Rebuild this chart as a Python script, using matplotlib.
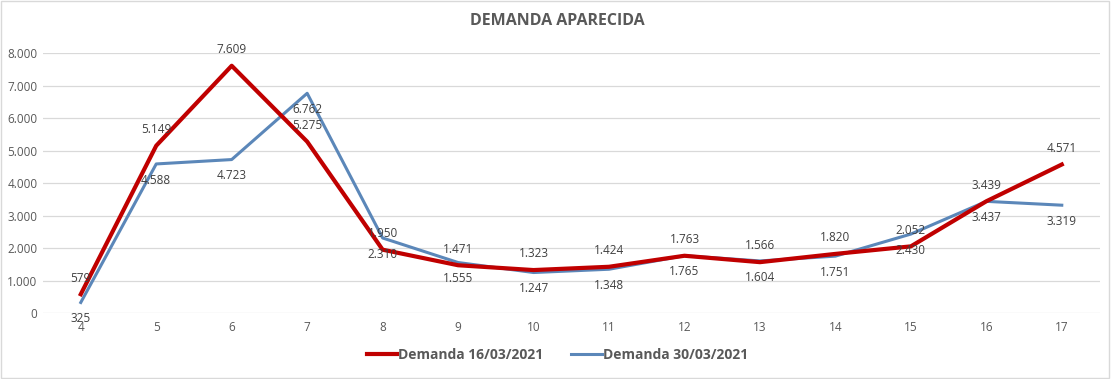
import matplotlib
matplotlib.use("Agg")
import matplotlib.pyplot as plt
from matplotlib.ticker import FuncFormatter
from matplotlib.patches import Rectangle

weeks = [4, 5, 6, 7, 8, 9, 10, 11, 12, 13, 14, 15, 16, 17]
demanda_1603 = [579, 5149, 7609, 5275, 1950, 1471, 1323, 1424, 1763, 1566, 1820, 2052, 3439, 4571]
demanda_3003 = [325, 4588, 4723, 6762, 2310, 1555, 1247, 1348, 1765, 1604, 1751, 2430, 3437, 3319]

RED = '#C00000'
BLUE = '#5B87B9'
TXT = '#404040'

plt.rcParams['font.family'] = ['Open Sans', 'DejaVu Sans']

fig = plt.figure(figsize=(11.15, 3.79), dpi=100)
ax = fig.add_axes([0.0386, 0.174, 0.9475, 0.686])

x = list(range(len(weeks)))
ax.plot(x, demanda_1603, color=RED, lw=3.0, solid_joinstyle='round', label='Demanda 16/03/2021', zorder=3)
ax.plot(x, demanda_3003, color=BLUE, lw=2.2, solid_joinstyle='round', label='Demanda 30/03/2021', zorder=2)

def fmt(v):
    return f'{v:,.0f}'.replace(',', '.')

# red labels above the point, blue labels below
for i, v in enumerate(demanda_1603):
    ax.annotate(fmt(v), (i, v), xytext=(0, 7), textcoords='offset points',
                ha='center', va='bottom', fontsize=8.5, color=TXT)
for i, v in enumerate(demanda_3003):
    ax.annotate(fmt(v), (i, v), xytext=(0, -7), textcoords='offset points',
                ha='center', va='top', fontsize=8.5, color=TXT)

ax.set_xlim(-0.5, len(weeks) - 0.5)
ax.set_ylim(0, 8000)
ax.set_yticks(range(0, 8001, 1000))
ax.yaxis.set_major_formatter(FuncFormatter(lambda v, p: fmt(v)))
ax.set_xticks(x)
ax.set_xticklabels([str(w) for w in weeks])
ax.grid(axis='y', color='#D9D9D9', lw=0.9)
ax.set_axisbelow(True)
for s in ax.spines.values():
    s.set_visible(False)
ax.tick_params(length=0, labelsize=8.5, colors='#595959')
ax.tick_params(axis='y', pad=4)
ax.tick_params(axis='x', pad=6)

fig.text(0.5, 0.945, 'DEMANDA APARECIDA', ha='center', va='center',
         fontsize=11.5, fontweight='bold', color='#595959')

fig.legend(loc='center', bbox_to_anchor=(0.5, 0.063), ncol=2, frameon=False,
           handlelength=2.2, columnspacing=2.0, handletextpad=0.1,
           prop={'weight': 'bold', 'size': 10})
for t in fig.legends[0].get_texts():
    t.set_color('#595959')

fig.patches.append(Rectangle((0.001, 0.002), 0.994, 0.995, transform=fig.transFigure,
                             fill=False, edgecolor='#D9D9D9', lw=1))

plt.savefig('out.png', dpi=100)
